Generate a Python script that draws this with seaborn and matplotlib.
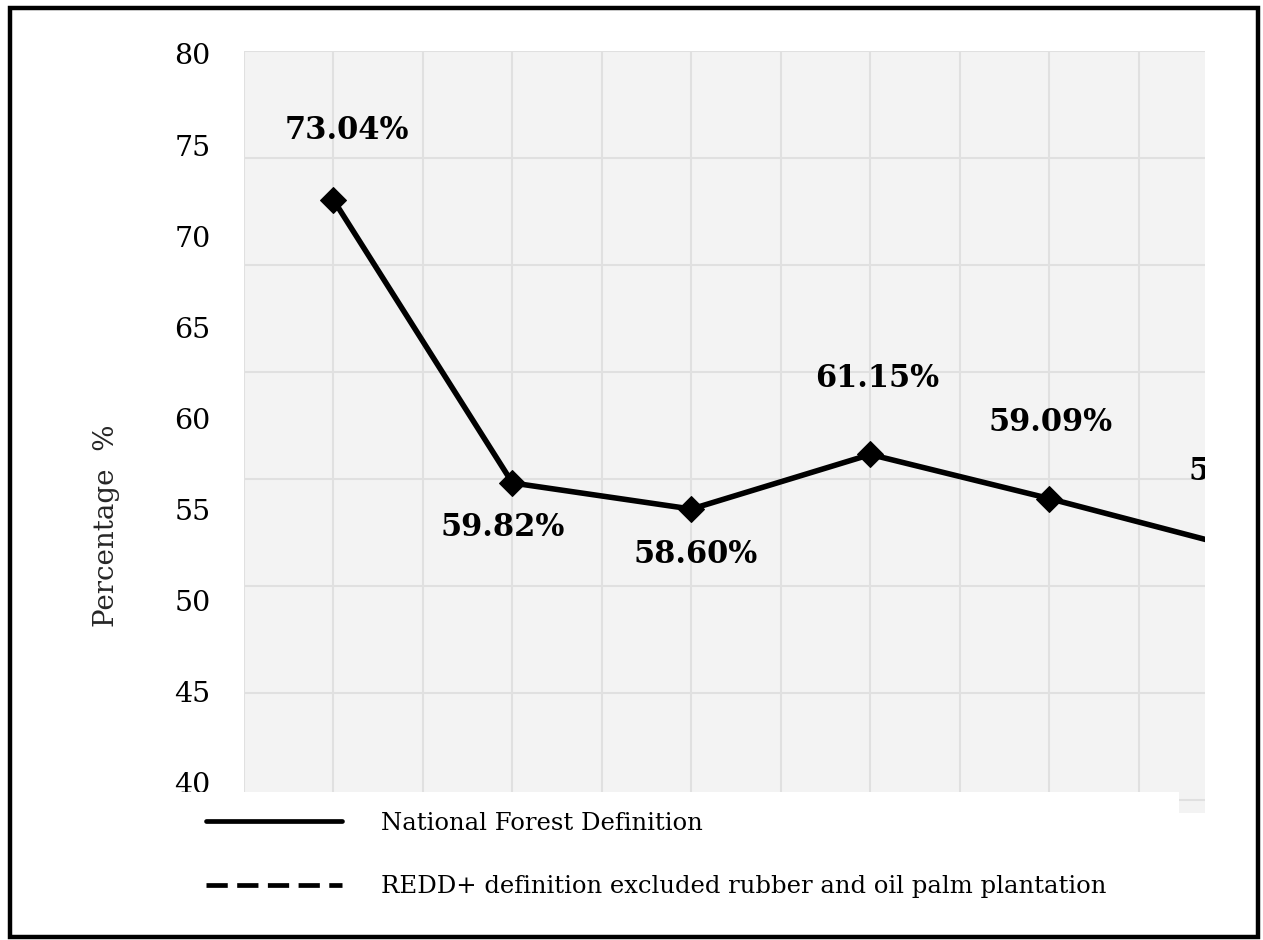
import numpy as np
import pandas as pd
import matplotlib
matplotlib.use("Agg")
import matplotlib.pyplot as plt
from matplotlib.lines import Line2D
from matplotlib.patches import Rectangle
import seaborn as sns

# ---- data ----
period_index = [0, 1, 2, 3, 4, 5]
national_forest = [73.04, 59.82, 58.60, 61.15, 59.09, 56.90]
series_labels = ["National Forest Definition",
                 "REDD+ definition excluded rubber and oil palm plantation"]
ytick_values = [80, 75, 70, 65, 60, 55, 50, 45, 40]
ylabel_text = "Percentage  %"

# label placement offsets (points): styling only
label_offsets = [(10, 50), (-7, -32), (3, -33), (5, 55), (1, 55), (16, 53)]

df = pd.DataFrame({"period": period_index, "value": national_forest})

sns.set_theme(style="white")
plt.rcParams["font.family"] = ["DejaVu Serif", "DejaVu Sans"]

fig = plt.figure(figsize=(12.63, 9.40), dpi=100)
ax = fig.add_axes([244 / 1263, 1 - 813 / 940, 961 / 1263, 762 / 940])
ax.set_facecolor("#f3f3f3")

sns.lineplot(data=df, x="period", y="value", ax=ax, color="black",
             linewidth=4.0, marker="D", markersize=13, markeredgecolor="black",
             sort=False, legend=False, zorder=3)

ax.set_xlim(-0.5, 4.87)
ax.set_ylim(44.4, 80)
ax.set_xticks(np.arange(-0.5, 5.0, 0.5))
ax.set_yticks(np.arange(45, 81, 5))
ax.grid(True, color="#e0e0e0", linewidth=1.5, zorder=0)
ax.set_axisbelow(True)
ax.tick_params(axis="both", length=0, labelleft=False, labelbottom=False)
ax.set_xlabel("")
ax.set_ylabel("")
for s in ax.spines.values():
    s.set_visible(False)

for x, v, (dx, dy) in zip(period_index, national_forest, label_offsets):
    ax.annotate(f"{v:.2f}%", xy=(x, v), xytext=(dx, dy), textcoords="offset points",
                ha="center", va="center", fontsize=22, fontweight="bold",
                color="black", annotation_clip=False, clip_on=True, zorder=4)

# tick label axis (left)
ax2 = ax.twinx()
ax2.set_ylim(38.35, 80.16)
ax2.yaxis.tick_left()
ax2.set_yticks(ytick_values)
ax2.set_yticklabels([str(t) for t in ytick_values])
ax2.tick_params(axis="y", length=0, pad=24, labelsize=20.5, labelcolor="black")
ax2.grid(False)
ax2.patch.set_visible(False)
for s in ax2.spines.values():
    s.set_visible(False)

fig.text(107 / 1263, 1 - 526 / 940, ylabel_text, rotation=90, ha="center", va="center",
         fontsize=20, color="#262626")

# white legend area covering the bottom of the plot
cover = Rectangle((150 / 1263, 4 / 940), 1029 / 1263, (936 - 792) / 940,
                  transform=fig.transFigure, facecolor="white", edgecolor="none", zorder=5)
fig.add_artist(cover)

handles = [Line2D([], [], color="black", linewidth=3.4),
           Line2D([], [], color="black", linewidth=3.4, linestyle=(0, (4.5, 2)))]
leg = fig.legend(handles, series_labels, loc="upper left",
                 bbox_to_anchor=(206 / 1263, 1 - 812 / 940), frameon=False,
                 prop={"size": 17.5}, handlelength=5.6, handletextpad=1.6, labelspacing=1.65,
                 borderpad=0, borderaxespad=0)
for t in leg.get_texts():
    t.set_color("black")
leg.set_zorder(10)

border = Rectangle((10 / 1263, 3 / 940), 1248 / 1263, (929.5) / 940,
                   transform=fig.transFigure, facecolor="none", edgecolor="black",
                   linewidth=3.2, zorder=20)
fig.add_artist(border)

fig.savefig("out.png", dpi=100)
